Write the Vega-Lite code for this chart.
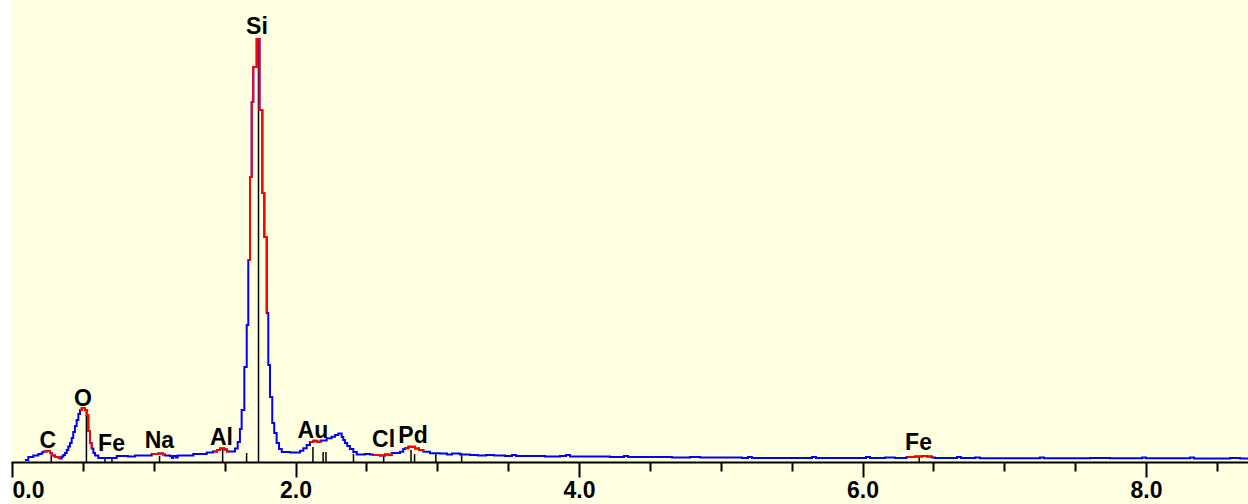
{
  "$schema": "https://vega.github.io/schema/vega-lite/v6.json",
  "width": 1237,
  "height": 504,
  "autosize": {"type": "none"},
  "padding": {"left": 11, "top": 0, "right": 0, "bottom": 0},
  "background": "#FFFFFF",
  "config": {
    "view": {"fill": "#FFFFE1", "stroke": null},
    "font": "Liberation Sans"
  },
  "datasets": {
    "spectrum": [
      {"e": 0.092, "c": 2},
      {"e": 0.115, "c": 5},
      {"e": 0.150, "c": 6.5},
      {"e": 0.186, "c": 8},
      {"e": 0.210, "c": 9.5},
      {"e": 0.221, "c": 10.5, "roi": "C"},
      {"e": 0.245, "c": 11, "roi": "C"},
      {"e": 0.268, "c": 9, "roi": "C"},
      {"e": 0.280, "c": 6.5, "roi": "C"},
      {"e": 0.303, "c": 5, "roi": "C"},
      {"e": 0.327, "c": 4.5, "roi": "C"},
      {"e": 0.339, "c": 3.5, "roi": "C"},
      {"e": 0.351, "c": 5.5},
      {"e": 0.362, "c": 7},
      {"e": 0.374, "c": 9},
      {"e": 0.386, "c": 12},
      {"e": 0.397, "c": 15.5},
      {"e": 0.409, "c": 19},
      {"e": 0.421, "c": 24},
      {"e": 0.432, "c": 30},
      {"e": 0.444, "c": 36},
      {"e": 0.456, "c": 42},
      {"e": 0.468, "c": 48},
      {"e": 0.480, "c": 52, "roi": "O"},
      {"e": 0.492, "c": 54, "roi": "O"},
      {"e": 0.515, "c": 52, "roi": "O"},
      {"e": 0.527, "c": 47, "roi": "O"},
      {"e": 0.538, "c": 31, "roi": "O"},
      {"e": 0.550, "c": 19, "roi": "O"},
      {"e": 0.562, "c": 13.5, "roi": "O"},
      {"e": 0.574, "c": 9},
      {"e": 0.586, "c": 6.5},
      {"e": 0.609, "c": 4},
      {"e": 0.739, "c": 6},
      {"e": 0.818, "c": 5.5},
      {"e": 0.868, "c": 6.5},
      {"e": 0.986, "c": 8, "roi": "Na"},
      {"e": 1.030, "c": 8.5, "roi": "Na"},
      {"e": 1.065, "c": 7.5, "roi": "Na"},
      {"e": 1.079, "c": 6.5, "roi": "Na"},
      {"e": 1.115, "c": 6},
      {"e": 1.127, "c": 4},
      {"e": 1.138, "c": 6},
      {"e": 1.157, "c": 4.5},
      {"e": 1.169, "c": 6.5},
      {"e": 1.279, "c": 8},
      {"e": 1.374, "c": 9.5},
      {"e": 1.418, "c": 10.5, "roi": "Al"},
      {"e": 1.446, "c": 12, "roi": "Al"},
      {"e": 1.467, "c": 13.5, "roi": "Al"},
      {"e": 1.499, "c": 12.5, "roi": "Al"},
      {"e": 1.517, "c": 10.5, "roi": "Al"},
      {"e": 1.531, "c": 10.5, "roi": "Al"},
      {"e": 1.573, "c": 13.5},
      {"e": 1.592, "c": 20},
      {"e": 1.608, "c": 33},
      {"e": 1.620, "c": 52},
      {"e": 1.639, "c": 95},
      {"e": 1.656, "c": 137},
      {"e": 1.667, "c": 202, "roi": "Si"},
      {"e": 1.679, "c": 285, "roi": "Si"},
      {"e": 1.691, "c": 360, "roi": "Si"},
      {"e": 1.702, "c": 395, "roi": "Si"},
      {"e": 1.726, "c": 423, "roi": "Si"},
      {"e": 1.746, "c": 352, "roi": "Si"},
      {"e": 1.766, "c": 269, "roi": "Si"},
      {"e": 1.780, "c": 225, "roi": "Si"},
      {"e": 1.797, "c": 149, "roi": "Si"},
      {"e": 1.808, "c": 97},
      {"e": 1.820, "c": 65},
      {"e": 1.836, "c": 39},
      {"e": 1.850, "c": 29},
      {"e": 1.867, "c": 19},
      {"e": 1.884, "c": 13},
      {"e": 1.903, "c": 10},
      {"e": 1.961, "c": 9.5},
      {"e": 2.032, "c": 11.3},
      {"e": 2.055, "c": 13.7},
      {"e": 2.079, "c": 17},
      {"e": 2.102, "c": 20, "roi": "Au"},
      {"e": 2.126, "c": 21.3, "roi": "Au"},
      {"e": 2.150, "c": 20.3, "roi": "Au"},
      {"e": 2.178, "c": 21.5, "roi": "Au"},
      {"e": 2.220, "c": 23.7},
      {"e": 2.255, "c": 25.3},
      {"e": 2.279, "c": 27},
      {"e": 2.302, "c": 28.5},
      {"e": 2.326, "c": 25},
      {"e": 2.337, "c": 22},
      {"e": 2.349, "c": 19},
      {"e": 2.365, "c": 16},
      {"e": 2.384, "c": 13},
      {"e": 2.408, "c": 10},
      {"e": 2.432, "c": 7.5},
      {"e": 2.490, "c": 8},
      {"e": 2.526, "c": 7.5},
      {"e": 2.549, "c": 7, "roi": "Cl"},
      {"e": 2.596, "c": 6.5, "roi": "Cl"},
      {"e": 2.631, "c": 7.5, "roi": "Cl"},
      {"e": 2.660, "c": 7, "roi": "Cl"},
      {"e": 2.679, "c": 9, "roi": "Cl"},
      {"e": 2.737, "c": 10.3},
      {"e": 2.760, "c": 13},
      {"e": 2.772, "c": 13.7, "roi": "Pd"},
      {"e": 2.796, "c": 15.3, "roi": "Pd"},
      {"e": 2.843, "c": 13.5, "roi": "Pd"},
      {"e": 2.871, "c": 12, "roi": "Pd"},
      {"e": 2.902, "c": 10.3, "roi": "Pd"},
      {"e": 2.949, "c": 8.7},
      {"e": 3.019, "c": 8.5},
      {"e": 3.069, "c": 7.5},
      {"e": 3.104, "c": 8.5},
      {"e": 3.160, "c": 7.5},
      {"e": 3.231, "c": 7},
      {"e": 3.287, "c": 6.5},
      {"e": 3.344, "c": 7},
      {"e": 3.400, "c": 6.5},
      {"e": 3.478, "c": 6},
      {"e": 3.527, "c": 7},
      {"e": 3.556, "c": 6},
      {"e": 3.760, "c": 5.5},
      {"e": 3.866, "c": 6},
      {"e": 3.908, "c": 7},
      {"e": 3.937, "c": 5.5},
      {"e": 4.219, "c": 5},
      {"e": 4.317, "c": 6},
      {"e": 4.346, "c": 5},
      {"e": 4.656, "c": 4.5},
      {"e": 4.783, "c": 5},
      {"e": 4.854, "c": 4.5},
      {"e": 5.150, "c": 4},
      {"e": 5.192, "c": 5},
      {"e": 5.220, "c": 4},
      {"e": 5.644, "c": 5},
      {"e": 5.672, "c": 4},
      {"e": 6.025, "c": 5},
      {"e": 6.053, "c": 4},
      {"e": 6.159, "c": 4.5},
      {"e": 6.229, "c": 4},
      {"e": 6.312, "c": 5, "roi": "FeK"},
      {"e": 6.370, "c": 5.5, "roi": "FeK"},
      {"e": 6.420, "c": 6, "roi": "FeK"},
      {"e": 6.455, "c": 5.5, "roi": "FeK"},
      {"e": 6.488, "c": 4.5, "roi": "FeK"},
      {"e": 6.511, "c": 4},
      {"e": 6.667, "c": 5},
      {"e": 6.695, "c": 4},
      {"e": 6.794, "c": 4.5},
      {"e": 6.829, "c": 3.7},
      {"e": 7.252, "c": 4.5},
      {"e": 7.280, "c": 3.7},
      {"e": 7.605, "c": 4},
      {"e": 7.746, "c": 3.7},
      {"e": 7.972, "c": 4.5},
      {"e": 8.000, "c": 3.7},
      {"e": 8.310, "c": 4.5},
      {"e": 8.339, "c": 3.5},
      {"e": 8.593, "c": 4},
      {"e": 8.663, "c": 3.5},
      {"e": 8.720, "c": 3.5}
    ],
    "lines": [
      {"e": 0.277, "c": 6},
      {"e": 0.525, "c": 47},
      {"e": 0.656, "c": 4},
      {"e": 0.705, "c": 4},
      {"e": 1.041, "c": 6},
      {"e": 1.486, "c": 13},
      {"e": 1.655, "c": 9},
      {"e": 1.739, "c": 423},
      {"e": 2.123, "c": 15},
      {"e": 2.195, "c": 10},
      {"e": 2.215, "c": 10},
      {"e": 2.409, "c": 8},
      {"e": 2.622, "c": 7},
      {"e": 2.815, "c": 12},
      {"e": 2.840, "c": 8},
      {"e": 2.990, "c": 9},
      {"e": 3.172, "c": 9},
      {"e": 6.400, "c": 6}
    ],
    "labels": [
      {"el": "C", "e": 0.253, "c": 14},
      {"el": "O", "e": 0.501, "c": 56},
      {"el": "Fe", "e": 0.702, "c": 11.5},
      {"el": "Na", "e": 1.040, "c": 14.5},
      {"el": "Al", "e": 1.478, "c": 17},
      {"el": "Si", "e": 1.728, "c": 428},
      {"el": "Au", "e": 2.123, "c": 24},
      {"el": "Cl", "e": 2.621, "c": 15},
      {"el": "Pd", "e": 2.829, "c": 19},
      {"el": "Fe", "e": 6.395, "c": 12}
    ]
  },
  "encoding": {
    "x": {
      "field": "e",
      "type": "quantitative",
      "scale": {"domain": [-0.00705, 8.7195], "nice": false, "zero": false},
      "axis": {
        "title": null,
        "values": [0, 0.5, 1, 1.5, 2, 2.5, 3, 3.5, 4, 4.5, 5, 5.5, 6, 6.5, 7, 7.5, 8, 8.5],
        "labelExpr": "datum.value % 2 === 0 ? format(datum.value, '.1f') : ''",
        "offset": -42,
        "grid": false,
        "domainColor": "#000000",
        "domainWidth": 2,
        "tickColor": "#000000",
        "tickWidth": 2,
        "tickSize": {"condition": {"test": "datum.value % 2 === 0", "value": 15}, "value": 9},
        "labelFont": "Liberation Sans",
        "labelFontWeight": "bold",
        "labelFontSize": 23,
        "labelColor": "#000000",
        "labelPadding": 2,
        "labelFlush": true,
        "labelOverlap": false
      }
    },
    "y": {
      "field": "c",
      "type": "quantitative",
      "scale": {"domain": [-42, 462], "nice": false, "zero": false},
      "axis": null
    }
  },
  "layer": [
    {
      "data": {"name": "lines"},
      "mark": {"type": "rule", "color": "#000000", "strokeWidth": 1.5},
      "encoding": {"y2": {"datum": 0}}
    },
    {
      "data": {"name": "spectrum"},
      "mark": {"type": "line", "interpolate": "step-after", "color": "#0000FF", "strokeWidth": 2},
      "encoding": {}
    },
    {
      "data": {"name": "spectrum"},
      "transform": [{"filter": "isValid(datum.roi)"}],
      "mark": {"type": "line", "interpolate": "step-after", "color": "#FF0000", "strokeWidth": 2},
      "encoding": {"detail": {"field": "roi"}}
    },
    {
      "data": {"name": "labels"},
      "mark": {"type": "text", "font": "Liberation Sans", "fontWeight": "bold", "fontSize": 23, "color": "#000000", "align": "center", "baseline": "alphabetic"},
      "encoding": {"text": {"field": "el"}}
    }
  ]
}
